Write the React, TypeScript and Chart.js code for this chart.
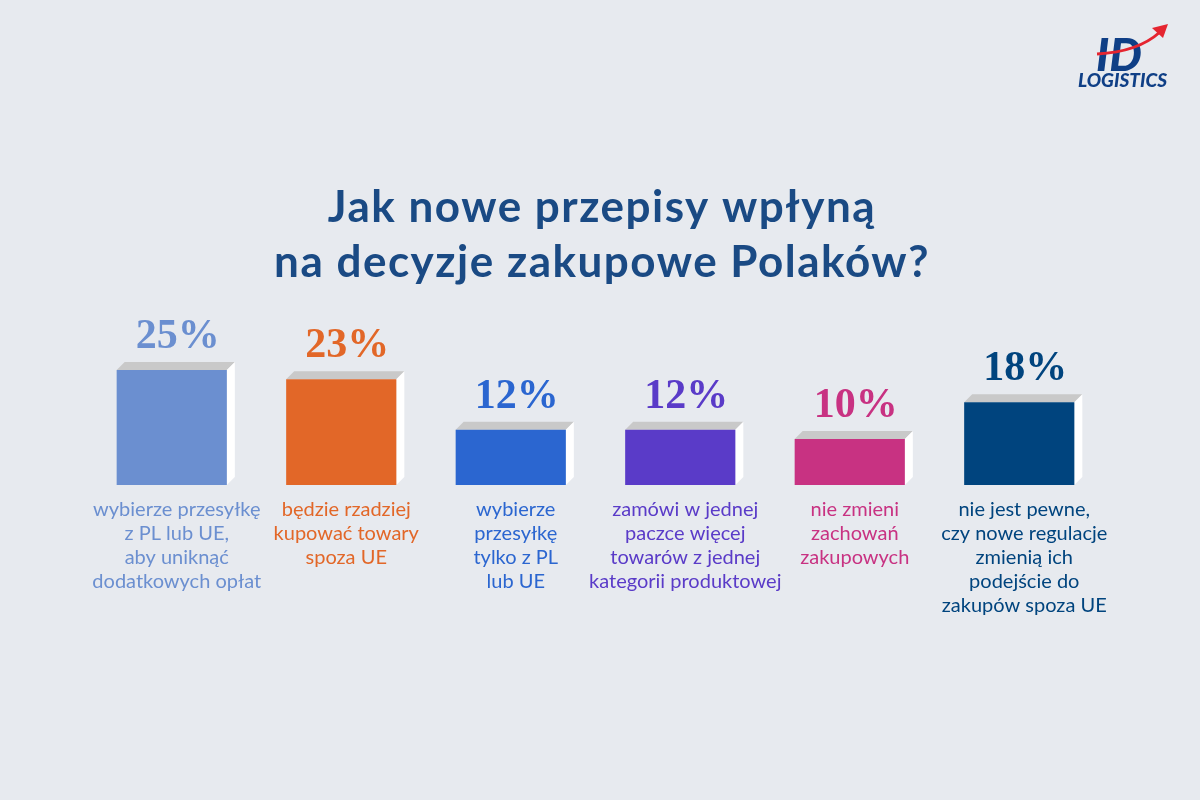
import React, { useEffect, useRef } from "react";
import { Chart, registerables } from "chart.js";

Chart.register(...registerables);

// Survey answers (share of respondents, %)
const categories: string[][] = [
  ["wybierze przesyłkę", "z PL lub UE,", "aby uniknąć", "dodatkowych opłat"],
  ["będzie rzadziej", "kupować towary", "spoza UE"],
  ["wybierze", "przesyłkę", "tylko z PL", "lub UE"],
  ["zamówi w jednej", "paczce więcej", "towarów z jednej", "kategorii produktowej"],
  ["nie zmieni", "zachowań", "zakupowych"],
  ["nie jest pewne,", "czy nowe regulacje", "zmienią ich", "podejście do", "zakupów spoza UE"],
];
const values: number[] = [25, 23, 12, 12, 10, 18];
const barColors: string[] = ["#6B8FD0", "#E26728", "#2B66D0", "#5A3BC8", "#C83282", "#00447E"];
const titleLines: string[] = ["Jak nowe przepisy wpłyną", "na decyzje zakupowe Polaków?"];

const BG = "#E7EAEF";
const TITLE_COLOR = "#1A4A84";
const DEPTH = 8;

const decorPlugin = {
  id: "decor",
  beforeDraw(chart: any) {
    const { ctx, width, height } = chart;
    ctx.save();
    ctx.fillStyle = BG;
    ctx.fillRect(0, 0, width, height);

    // title
    ctx.fillStyle = TITLE_COLOR;
    ctx.font = "bold 44px Lato";
    (ctx as any).letterSpacing = "1.5px";
    ctx.textAlign = "center";
    ctx.textBaseline = "alphabetic";
    titleLines.forEach((t, i) => ctx.fillText(t, 602, 222 + i * 55));
    (ctx as any).letterSpacing = "0px";

    // logo
    ctx.fillStyle = "#0F3F86";
    ctx.font = "italic 900 46px Lato";
    ctx.textAlign = "left";
    ctx.fillText("ID", 1096, 71);
    ctx.font = "italic 900 19px Lato";
    ctx.fillText("LOGISTICS", 1078, 87);
    ctx.strokeStyle = "#E52530";
    ctx.lineWidth = 3;
    ctx.beginPath();
    ctx.moveTo(1097, 54);
    ctx.quadraticCurveTo(1138, 52, 1160, 32);
    ctx.stroke();
    ctx.fillStyle = "#E52530";
    ctx.beginPath();
    ctx.moveTo(1168, 24);
    ctx.lineTo(1152, 28);
    ctx.lineTo(1163, 38);
    ctx.closePath();
    ctx.fill();
    ctx.restore();
  },
  beforeDatasetsDraw(chart: any) {
    const { ctx } = chart;
    const meta = chart.getDatasetMeta(0);
    ctx.save();
    meta.data.forEach((bar: any) => {
      const left = bar.x - bar.width / 2;
      const right = bar.x + bar.width / 2;
      const top = bar.y;
      const bottom = bar.base;
      // top face
      ctx.fillStyle = "#C9C9C9";
      ctx.beginPath();
      ctx.moveTo(left, top);
      ctx.lineTo(left + DEPTH, top - DEPTH);
      ctx.lineTo(right + DEPTH, top - DEPTH);
      ctx.lineTo(right, top);
      ctx.closePath();
      ctx.fill();
      // side face
      ctx.fillStyle = "#FFFFFF";
      ctx.beginPath();
      ctx.moveTo(right, top);
      ctx.lineTo(right + DEPTH, top - DEPTH);
      ctx.lineTo(right + DEPTH, bottom - DEPTH);
      ctx.lineTo(right, bottom);
      ctx.closePath();
      ctx.fill();
    });
    ctx.restore();
  },
  afterDatasetsDraw(chart: any) {
    const { ctx } = chart;
    const meta = chart.getDatasetMeta(0);
    ctx.save();
    ctx.textAlign = "center";
    ctx.textBaseline = "alphabetic";
    meta.data.forEach((bar: any, i: number) => {
      const cx = bar.x + 5;
      ctx.fillStyle = barColors[i];
      ctx.font = "bold 42px 'Liberation Serif'";
      ctx.fillText(values[i] + "%", cx + 1, bar.y - DEPTH - 14);
      ctx.font = "20px Lato";
      categories[i].forEach((line, j) => {
        ctx.fillText(line, cx, bar.base + 31 + j * 24);
      });
    });
    ctx.restore();
  },
};

export default function App() {
  const ref = useRef<HTMLCanvasElement | null>(null);
  useEffect(() => {
    if (!ref.current) return;
    const chart = new Chart(ref.current, {
      type: "bar",
      data: {
        labels: categories.map((c) => c.join(" ")),
        datasets: [
          {
            data: values,
            backgroundColor: barColors,
            borderWidth: 0,
            barPercentage: 0.65,
            categoryPercentage: 1,
          },
        ],
      },
      options: {
        responsive: false,
        animation: false,
        devicePixelRatio: 1,
        layout: { padding: { top: 255, bottom: 315, left: 87, right: 96 } },
        plugins: { legend: { display: false }, tooltip: { enabled: false }, title: { display: false } },
        scales: {
          x: { display: false },
          y: { display: false, min: 0, max: 50 },
        },
      },
      plugins: [decorPlugin],
    });
    return () => chart.destroy();
  }, []);
  return (
    <div style={{ position: "fixed", left: 0, top: 0, width: 1200, height: 800, background: BG }}>
      <canvas ref={ref} width={1200} height={800} style={{ width: 1200, height: 800 }} />
    </div>
  );
}
